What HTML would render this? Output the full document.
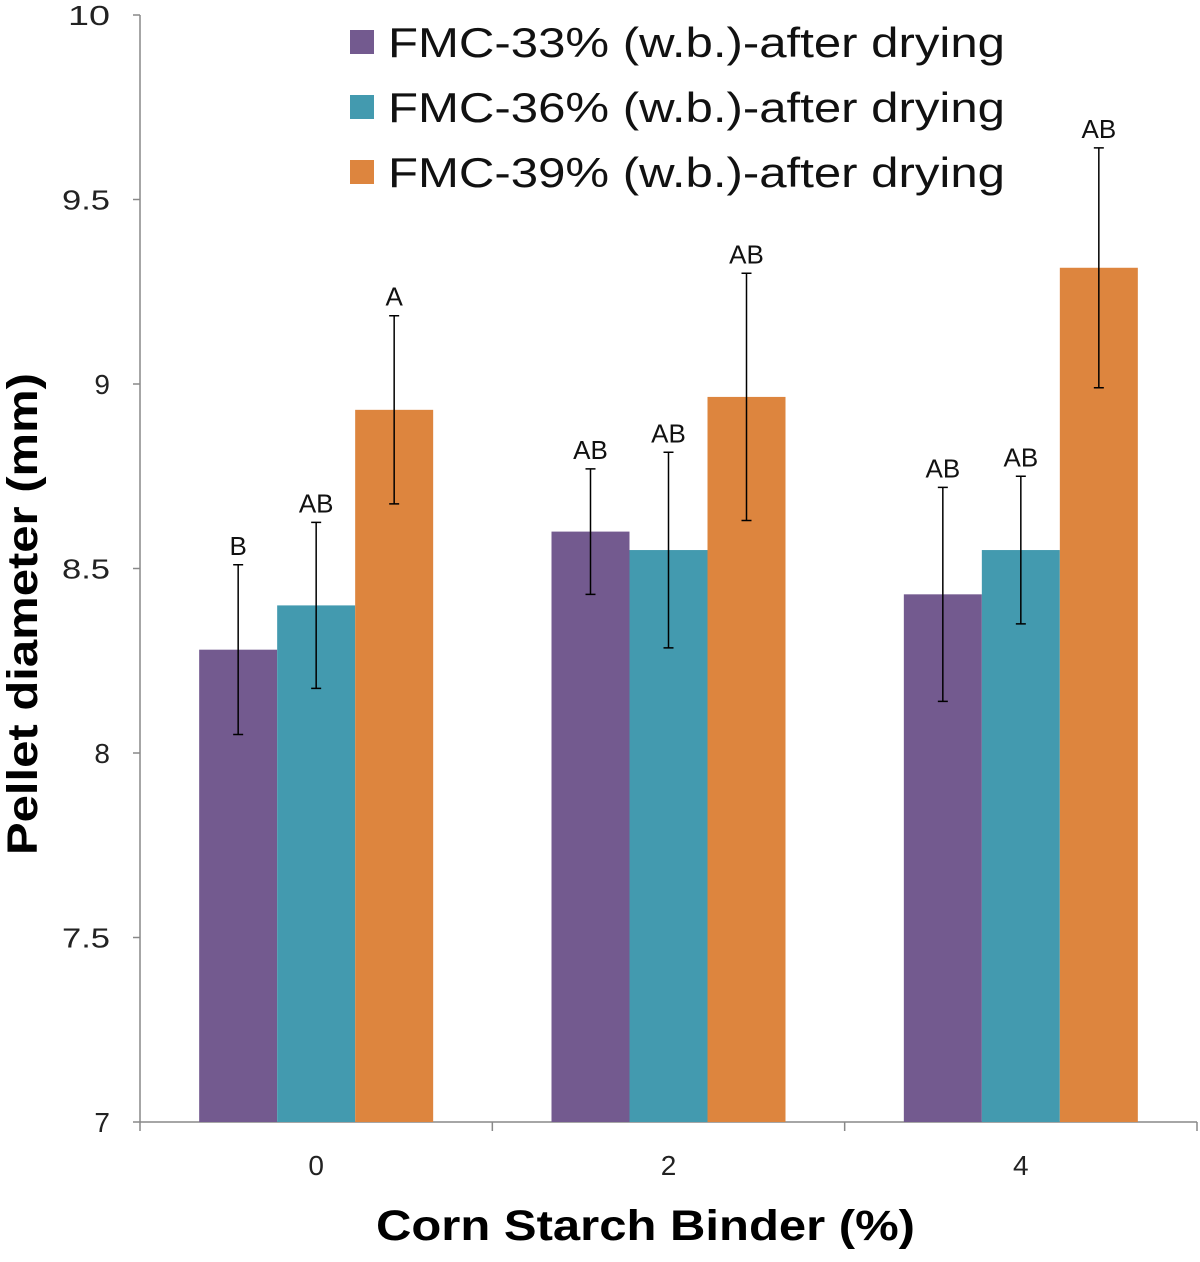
<!DOCTYPE html>
<html><head><meta charset="utf-8"><style>
body{margin:0;background:#fff}
svg text{font-family:"Liberation Sans",Arial,sans-serif}
</style></head><body>
<svg id="chart" width="1200" height="1257" xmlns="http://www.w3.org/2000/svg"></svg>
<script>
const categories=["0","2","4"];
const seriesNames=["FMC-33% (w.b.)-after drying","FMC-36% (w.b.)-after drying","FMC-39% (w.b.)-after drying"];
const colors=["#735a8f","#439aaf","#dd853e"];
const s33=[8.28,8.60,8.43];
const s36=[8.40,8.55,8.55];
const s39=[8.93,8.965,9.315];
const e33=[0.23,0.17,0.29];
const e36=[0.225,0.265,0.20];
const e39=[0.255,0.335,0.325];
const l33=["B","AB","AB"];
const l36=["AB","AB","AB"];
const l39=["A","AB","AB"];
const yTicks=[7,7.5,8,8.5,9,9.5,10];
const yTickLabels=["7","7.5","8","8.5","9","9.5","10"];
const series=[s33,s36,s39],errs=[e33,e36,e39],lets=[l33,l36,l39];
const svg=document.getElementById('chart');const NS="http://www.w3.org/2000/svg";
const x0=140,x1=1197,yTop=15,yBot=1122,yMin=7,yMax=10;
const y=v=>yBot-(v-yMin)/(yMax-yMin)*(yBot-yTop);
const cw=(x1-x0)/categories.length,bw=78;
function mk(t,a,txt){const e=document.createElementNS(NS,t);for(const k in a)e.setAttribute(k,a[k]);if(txt!==undefined)e.textContent=txt;svg.appendChild(e);return e;}
let e=mk('line',{x1:x0,y1:yTop,x2:x0,y2:yBot,stroke:'#888','stroke-width':1.5});


e=mk('line',{x1:x0,y1:yBot,x2:x1,y2:yBot,stroke:'#888','stroke-width':1.5});


yTicks.forEach((t,i)=>{
 e=mk('line',{x1:x0-7,y1:y(t),x2:x0,y2:y(t),stroke:'#888','stroke-width':1.5});
 
 
 const lab=yTickLabels[i];
 const attrs={x:110,y:y(t)+10,'text-anchor':'end','font-size':28,fill:'#222'};
 if(lab.length>1){attrs.textLength=lab.length===3?48:42;attrs.lengthAdjust='spacingAndGlyphs';}
 e=mk('text',attrs,lab);
 
 
});
for(let i=0;i<=categories.length;i++){
 e=mk('line',{x1:x0+i*cw,y1:yBot,x2:x0+i*cw,y2:yBot+9,stroke:'#888','stroke-width':1.5});
 
 
}
categories.forEach((c,ci)=>{
 const cx=x0+cw*(ci+0.5);
 e=mk('text',{x:cx,y:1175,'text-anchor':'middle','font-size':28,fill:'#222'},c);
 
 
 series.forEach((s,si)=>{
  const bx=cx-1.5*bw+si*bw,v=s[ci];
  e=mk('rect',{x:bx,y:y(v),width:bw,height:yBot-y(v),fill:colors[si]});
  
  
  const mx=bx+bw/2,hi=y(v+errs[si][ci]),lo=y(v-errs[si][ci]);
  e=mk('path',{d:`M${mx},${hi}V${lo}M${mx-5},${hi}H${mx+5}M${mx-5},${lo}H${mx+5}`,stroke:'#000','stroke-width':1.5,fill:'none'});
  
  
  e=mk('text',{x:mx,y:hi-10,'text-anchor':'middle','font-size':26,fill:'#111'},lets[si][ci]);
  
  
 });
});
seriesNames.forEach((n,i)=>{
 const ly=42+i*65;
 e=mk('rect',{x:350,y:ly-12,width:24,height:24,fill:colors[i]});
 
 
 e=mk('text',{x:388,y:ly+15,'font-size':42,fill:'#111',textLength:617,lengthAdjust:'spacingAndGlyphs'},n);
 
 
});
e=mk('text',{x:376,y:1240,'font-size':43,'font-weight':'bold',fill:'#000',textLength:539,lengthAdjust:'spacingAndGlyphs'},"Corn Starch Binder (%)");


e=mk('text',{x:0,y:0,'font-size':43,'font-weight':'bold',fill:'#000',textLength:482,lengthAdjust:'spacingAndGlyphs',transform:'translate(37,855) rotate(-90)'},"Pellet diameter (mm)");


</script>
</body></html>
